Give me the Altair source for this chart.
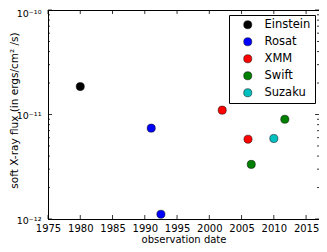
import altair as alt
import pandas as pd

missions = ["Einstein", "Rosat", "Rosat", "XMM", "XMM", "Swift", "Swift", "Suzaku"]
years = [1980.0, 1991.0, 1992.5, 2002.0, 2006.0, 2006.5, 2011.7, 2010.0]
flux = [1.85e-11, 7.4e-12, 1.11e-12, 1.1e-11, 5.8e-12, 3.33e-12, 9.0e-12, 5.9e-12]

legend_order = ["Einstein", "Rosat", "XMM", "Swift", "Suzaku"]
legend_colors = ["#000000", "#0000ff", "#ff0000", "#008000", "#00bfbf"]

x_ticks = [1975, 1980, 1985, 1990, 1995, 2000, 2005, 2010, 2015]
y_major = [1e-12, 1e-11, 1e-10]
y_minor = [2e-12, 3e-12, 4e-12, 5e-12, 6e-12, 7e-12, 8e-12, 9e-12,
           2e-11, 3e-11, 4e-11, 5e-11, 6e-11, 7e-11, 8e-11, 9e-11]

W, H = 271, 209
FONT = "DejaVu Sans"

df = pd.DataFrame({"mission": missions, "year": years, "flux": flux})
xdf = pd.DataFrame({"year": x_ticks})
ymaj = pd.DataFrame({"flux": y_major})
ymin = pd.DataFrame({"flux": y_minor})

xscale = alt.Scale(domain=[1975, 2017], nice=False, zero=False)
yscale = alt.Scale(type="log", domain=[1e-12, 1e-10], nice=False)

x_enc = alt.X("year:Q", scale=xscale, title="observation date",
              axis=alt.Axis(values=x_ticks, format="d", tickSize=0, grid=False,
                            labelPadding=4, labelFlush=False, labelOverlap=False,
                            titleY=20, titleBaseline="middle"))
y_enc = alt.Y("flux:Q", scale=yscale, title="soft X-ray flux (in ergs/cm² /s)",
              axis=alt.Axis(values=y_major, tickSize=0, grid=False, labelPadding=7,
                            labelFlush=False, labelOverlap=False,
                            labelOffset={"condition": {"test": "datum.value > 5e-11", "value": 3},
                                         "value": 1},
                            labelFontSize=9.5, titleFontSize=10.5,
                            titleX=-34, titleY=100, titleBaseline="middle",
                            titleAlign="center",
                            labelExpr="datum.value > 5e-11 ? '10⁻¹⁰' : datum.value > 5e-12 ? '10⁻¹¹' : '10⁻¹²'"))

points = alt.Chart(df).mark_point(
    filled=True, shape="circle", size=66, opacity=1, stroke="black", strokeWidth=0.5
).encode(
    x=x_enc,
    y=y_enc,
    color=alt.Color("mission:N",
                    scale=alt.Scale(domain=legend_order, range=legend_colors),
                    legend=alt.Legend(title=None, orient="none", legendX=181, legendY=5,
                                      strokeColor="black", fillColor="white",
                                      padding=4, symbolOffset=9,
                                      labelFont=FONT, labelFontSize=11.5, labelColor="black",
                                      labelOffset=11, rowPadding=4,
                                      symbolSize=66, symbolType="circle",
                                      symbolStrokeColor="black", symbolStrokeWidth=0.5)),
)

def xtick_layer(y0, y1):
    return alt.Chart(xdf).mark_rule(color="black", strokeWidth=0.8).encode(
        x=x_enc, y=alt.value(y0), y2=alt.value(y1))

def ytick_layer(data, x0, x1):
    return alt.Chart(data).mark_rule(color="black", strokeWidth=0.8).encode(
        y=y_enc, x=alt.value(x0), x2=alt.value(x1))

layers = [
    points,
    xtick_layer(H, H - 4), xtick_layer(0, 4),
    ytick_layer(ymaj, 0, 4), ytick_layer(ymaj, W, W - 4),
    ytick_layer(ymin, 0, 2), ytick_layer(ymin, W, W - 2),
]

chart = alt.layer(*layers).properties(
    width=W, height=H,
    autosize=alt.AutoSizeParams(type="none"),
    padding={"left": 40, "top": 2, "right": 0, "bottom": 25},
).configure_view(stroke="black", strokeWidth=1).configure_axis(
    labelFont=FONT, titleFont=FONT, labelFontSize=10, titleFontSize=10,
    titleFontWeight="normal", labelColor="black", titleColor="black",
    domainColor="black", domainWidth=1,
)

chart.save("out.html", embed_options={"renderer": "svg", "actions": False})
